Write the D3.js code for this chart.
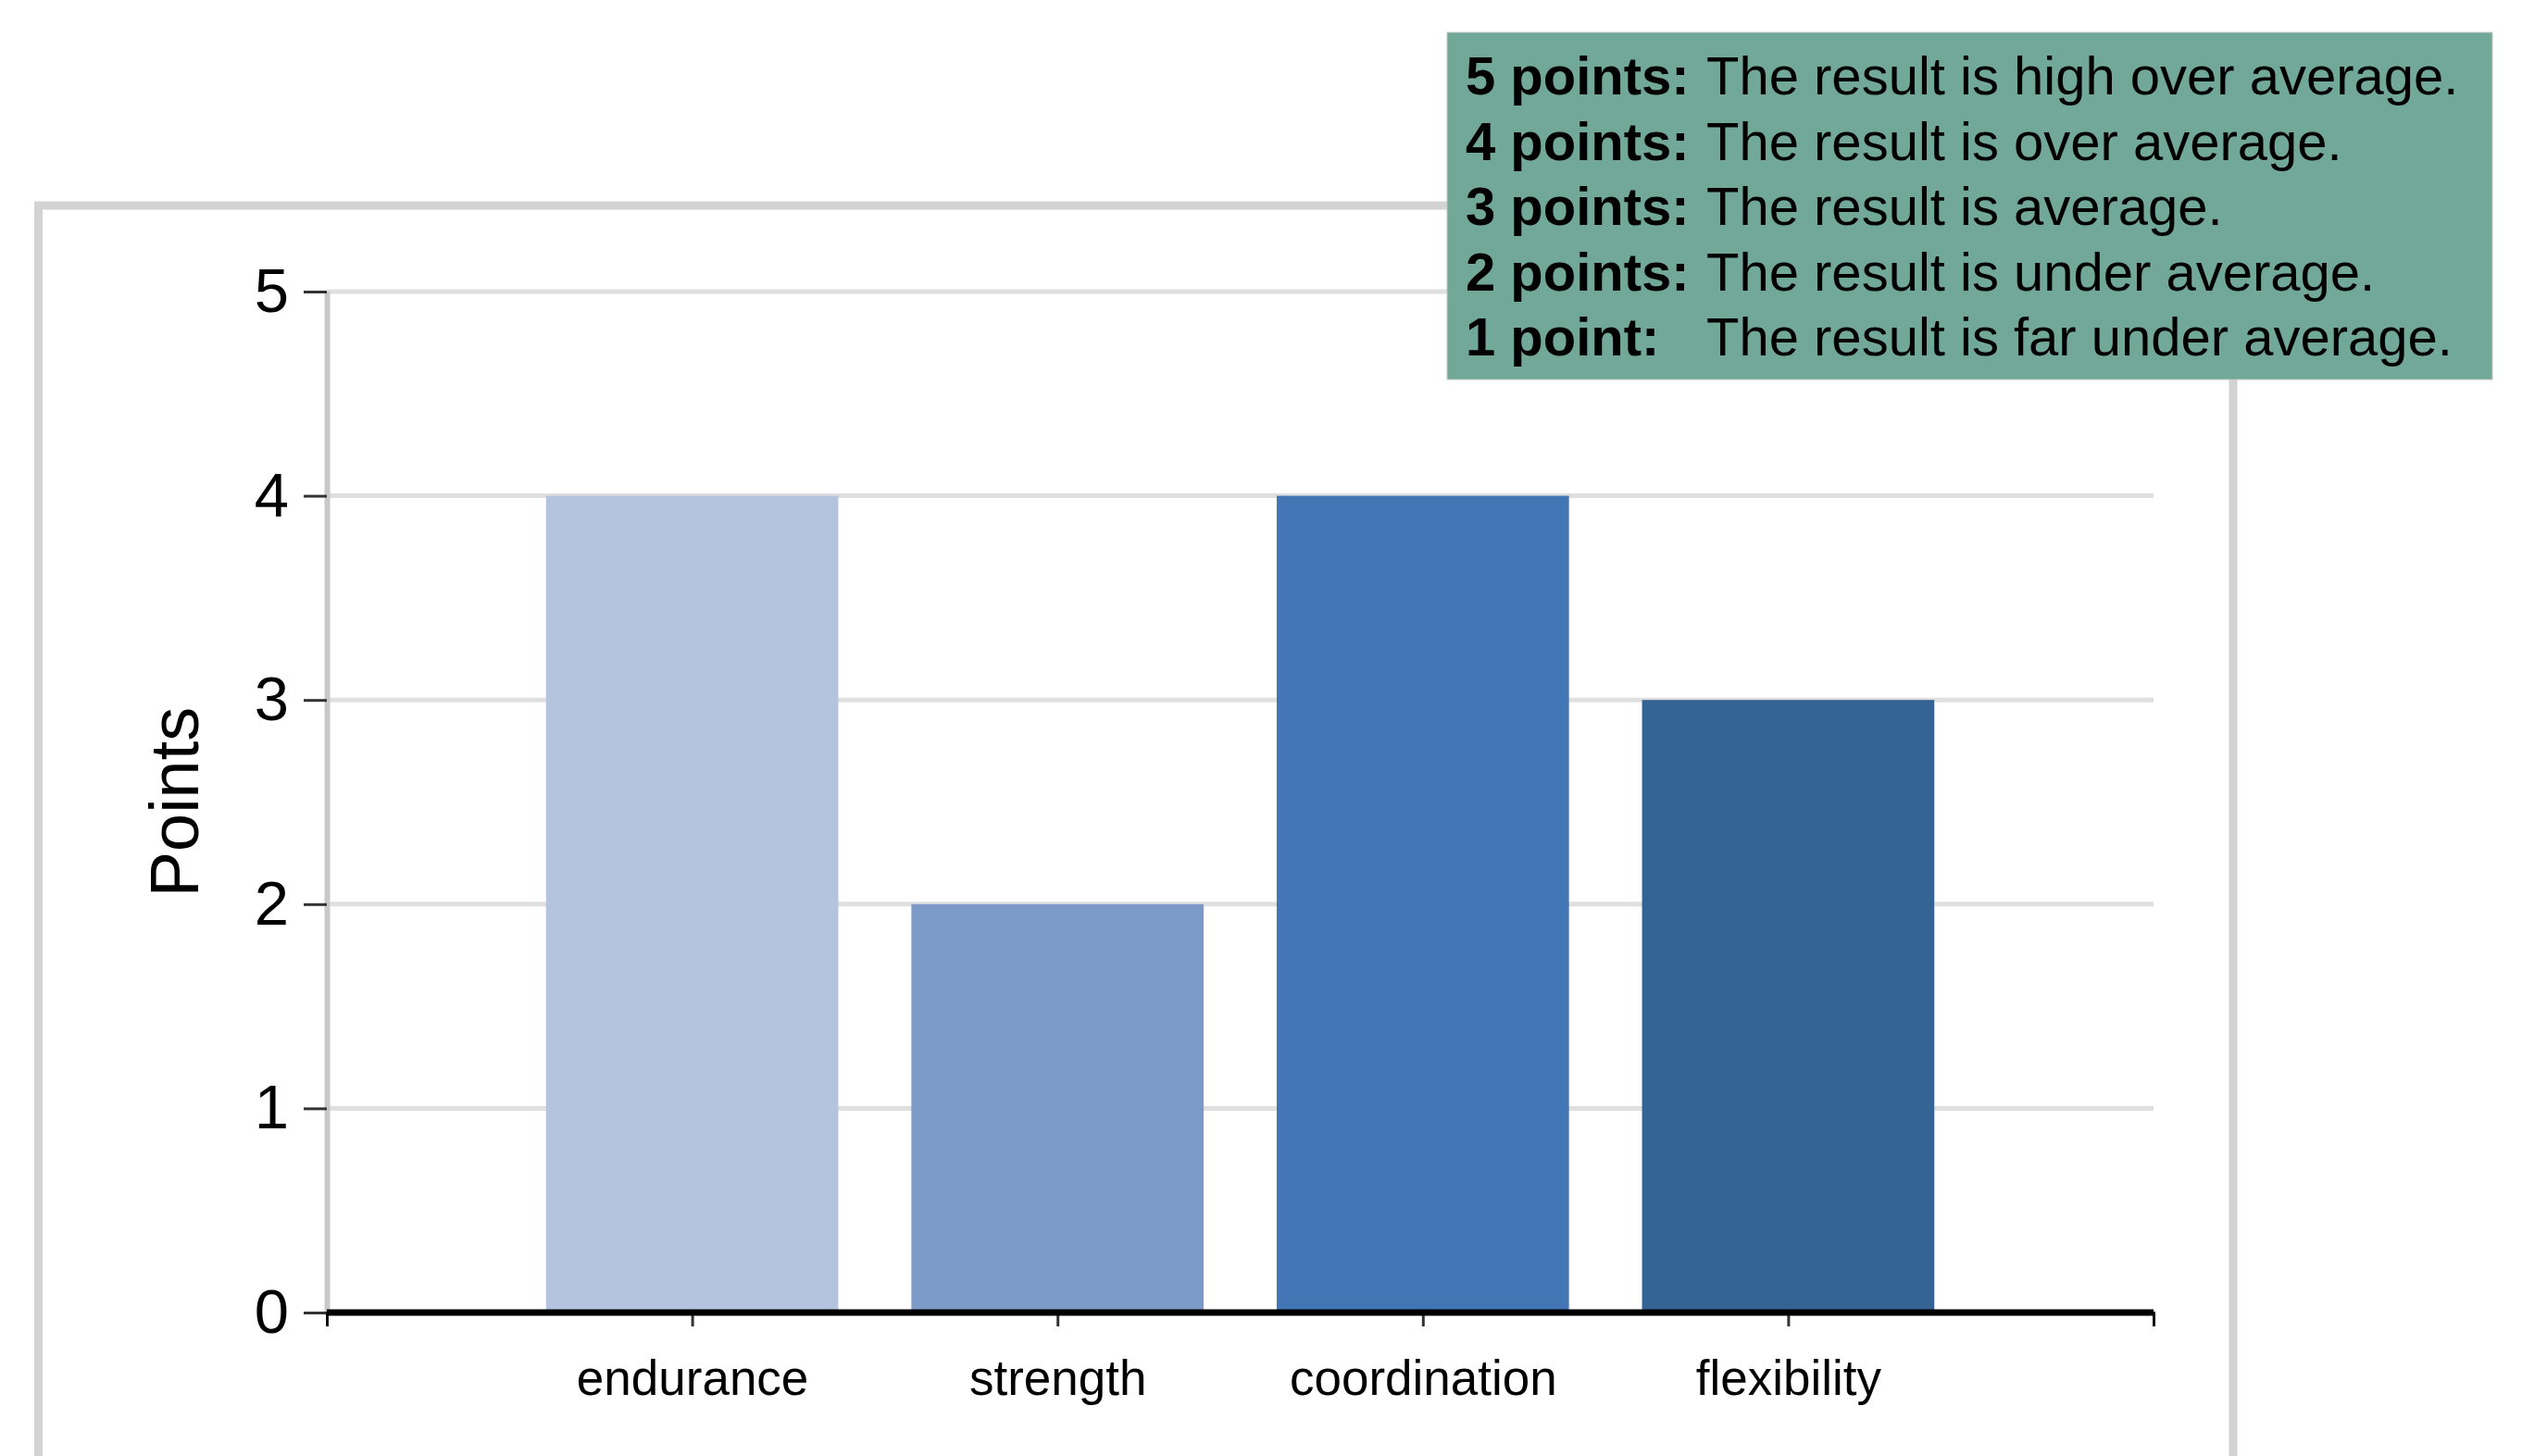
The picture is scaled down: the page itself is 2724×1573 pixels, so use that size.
<!DOCTYPE html>
<html>
<head>
<meta charset="utf-8">
<script src="https://cdn.jsdelivr.net/npm/d3@7"></script>
<style>
  body { margin: 0; background: #fff; }
  svg { display: block; font-family: "Liberation Sans", Arial, sans-serif; }
</style>
</head>
<body>
<div class="canvas"></div>
<script>
// chart data
const categories = ['endurance', 'strength', 'coordination', 'flexibility'];
const points = [4, 2, 4, 3];
const barColors = ['#b4c4de', '#7b9ac8', '#4276b4', '#356393'];
const yTicks = [0, 1, 2, 3, 4, 5];

// legend (scale explanation)
const legendLabels = ['5 points:', '4 points:', '3 points:', '2 points:', '1 point:'];
const legendTexts = [
  'The result is high over average.',
  'The result is over average.',
  'The result is average.',
  'The result is under average.',
  'The result is far under average.'
];

const W = 2724, H = 1573;
const svg = d3.select('.canvas')
              .append('svg')
              .attr('width', W)
              .attr('height', H);

// outer frame (bottom runs off the picture)
svg.append('rect')
    .attr('x', 41.5)
    .attr('y', 222)
    .attr('width', 2370.5)
    .attr('height', 1500)
    .attr('fill', 'none')
    .attr('stroke', '#d3d3d3')
    .attr('stroke-width', 9);

const plot = {left: 353, right: 2326, top: 315, bottom: 1418};

const x = d3.scalePoint()
            .domain(categories)
            .range([plot.left, plot.right])
            .padding(1);

const y = d3.scaleLinear()
            .domain([0, 5])
            .range([plot.bottom, plot.top]);

// gridlines
svg.append('g')
    .selectAll('line')
    .data(yTicks)
    .enter()
    .append('line')
    .attr('x1', plot.left)
    .attr('x2', plot.right)
    .attr('y1', d => y(d))
    .attr('y2', d => y(d))
    .attr('stroke', '#dfdfdf')
    .attr('stroke-width', 5);

// bars
const barW = x.step() * 0.8;
svg.append('g')
    .selectAll('rect')
    .data(categories)
    .enter()
    .append('rect')
    .attr('x', d => x(d) - barW / 2)
    .attr('y', (d, i) => y(points[i]))
    .attr('width', barW)
    .attr('height', (d, i) => y(0) - y(points[i]))
    .attr('fill', (d, i) => barColors[i]);

// y axis
const yAxisGroup = svg.append('g')
                      .attr('transform', `translate(${plot.left}, 0)`);
yAxisGroup.call(d3.axisLeft(y)
                  .tickValues(yTicks)
                  .tickFormat(d3.format('d'))
                  .tickSize(25)
                  .tickSizeOuter(0)
                  .tickPadding(16));
yAxisGroup.select('.domain')
    .attr('stroke', '#c8c8c8')
    .attr('stroke-width', 6);
yAxisGroup.selectAll('.tick line')
    .attr('stroke', '#333')
    .attr('stroke-width', 3);
yAxisGroup.selectAll('text')
    .attr('font-size', 67)
    .attr('fill', '#000')
    .attr('font-family', '"Liberation Sans", Arial, sans-serif');

// x axis
const xAxisGroup = svg.append('g')
                      .attr('transform', `translate(0, ${plot.bottom})`);
xAxisGroup.call(d3.axisBottom(x)
                  .tickSize(15)
                  .tickSizeOuter(15));
xAxisGroup.select('.domain')
    .attr('stroke', '#111')
    .attr('stroke-width', 3);
xAxisGroup.selectAll('.tick line')
    .attr('stroke', '#333')
    .attr('stroke-width', 3);
xAxisGroup.selectAll('text')
    .attr('y', 89)
    .attr('dy', 0)
    .attr('font-size', 53)
    .attr('fill', '#000')
    .attr('font-family', '"Liberation Sans", Arial, sans-serif');
// heavy baseline
xAxisGroup.append('line')
    .attr('x1', x.range()[0])
    .attr('x2', x.range()[1])
    .attr('stroke', '#000')
    .attr('stroke-width', 7);

// y axis title
svg.append('text')
    .attr('transform', `translate(214, ${(plot.top + plot.bottom) / 2}) rotate(-90)`)
    .attr('text-anchor', 'middle')
    .attr('font-size', 74)
    .attr('fill', '#000')
    .text('Points');

// legend box
const legend = svg.append('g');
legend.append('rect')
    .attr('x', 1563)
    .attr('y', 35)
    .attr('width', 1129)
    .attr('height', 375)
    .attr('fill', '#72a898')
    .attr('stroke', '#c4c4c4')
    .attr('stroke-width', 1);

const rows = legend.selectAll('g.row')
                   .data(legendLabels)
                   .enter()
                   .append('g')
                   .attr('class', 'row')
                   .attr('transform', (d, i) => `translate(0, ${102 + i * 70.5})`);
rows.append('text')
    .attr('x', 1583)
    .attr('font-size', 58)
    .attr('font-weight', 'bold')
    .attr('fill', '#000')
    .text(d => d);
rows.append('text')
    .attr('x', 1843)
    .attr('font-size', 58)
    .attr('fill', '#000')
    .text((d, i) => legendTexts[i]);
</script>
</body>
</html>
